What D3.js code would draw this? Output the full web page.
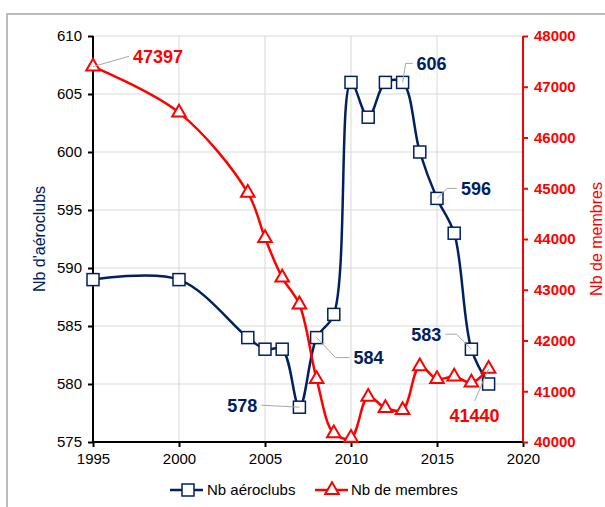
<!DOCTYPE html>
<html>
<head>
<meta charset="utf-8">
<script src="https://cdn.jsdelivr.net/npm/d3@7"></script>
<style>
  body { margin: 0; background: #fff; }
  text { font-family: "Liberation Sans", Arial, sans-serif; }
</style>
</head>
<body>
<div id="chart"></div>
<script>
// Data
const years = [1995, 2000, 2004, 2005, 2006, 2007, 2008, 2009, 2010, 2011, 2012, 2013, 2014, 2015, 2016, 2017, 2018];
const aeroclubs = [589, 589, 584, 583, 583, 578, 584, 586, 606, 603, 606, 606, 600, 596, 593, 583, 580];
const membres = [47397, 46490, 44910, 44020, 43240, 42710, 41240, 40170, 40080, 40890, 40670, 40630, 41490, 41240, 41290, 41170, 41440];
const xTicks = [1995, 2000, 2005, 2010, 2015, 2020];
const leftTicks = [575, 580, 585, 590, 595, 600, 605, 610];
const rightTicks = [40000, 41000, 42000, 43000, 44000, 45000, 46000, 47000, 48000];
const labeledClubs = [2007, 2008, 2013, 2015, 2017];
const labeledMembres = [1995, 2018];

const navy = "#002060";
const red = "#ff0000";
const width = 605, height = 507;
const margin = {top: 36, right: 82, bottom: 65, left: 93};
const w = width - margin.left - margin.right;
const h = height - margin.top - margin.bottom;

const svg = d3.select("#chart").append("svg")
  .attr("width", width)
  .attr("height", height);

// outer chart border
svg.append("rect")
  .attr("x", 7).attr("y", 14)
  .attr("width", 620).attr("height", 520)
  .attr("fill", "none")
  .attr("stroke", "#a6a6a6")
  .attr("stroke-width", 1.5);

const g = svg.append("g").attr("transform", `translate(${margin.left},${margin.top})`);

const x = d3.scaleLinear().domain([1995, 2020]).range([0, w]);
const yL = d3.scaleLinear().domain([575, 610]).range([h, 0]);
const yR = d3.scaleLinear().domain([40000, 48000]).range([h, 0]);

// gridlines
g.append("g").selectAll("line").data(leftTicks.slice(1))
  .enter().append("line")
  .attr("x1", 0).attr("x2", w)
  .attr("y1", d => yL(d)).attr("y2", d => yL(d))
  .attr("stroke", "#d9d9d9").attr("stroke-width", 1);
g.append("g").selectAll("line").data(xTicks.slice(1, -1))
  .enter().append("line")
  .attr("x1", d => x(d)).attr("x2", d => x(d))
  .attr("y1", 0).attr("y2", h)
  .attr("stroke", "#d9d9d9").attr("stroke-width", 1);

// axes
const xAxis = g.append("g").attr("transform", `translate(0,${h})`)
  .call(d3.axisBottom(x).tickValues(xTicks).tickFormat(d3.format("d")).tickSize(5).tickPadding(6));
const leftAxis = g.append("g")
  .call(d3.axisLeft(yL).tickValues(leftTicks).tickSize(5).tickPadding(6));
const rightAxis = g.append("g").attr("transform", `translate(${w},0)`)
  .call(d3.axisRight(yR).tickValues(rightTicks).tickFormat(d3.format("d")).tickSize(5).tickPadding(6));

[xAxis, leftAxis].forEach(a => {
  a.selectAll("path, line").attr("stroke", "#000").attr("stroke-width", 2);
  a.selectAll("text").attr("fill", "#000").style("font-size", "15px");
  a.select(".domain").attr("d", a === xAxis ? `M0,0H${w}` : `M0,${h}V0`);
});
rightAxis.selectAll("path, line").attr("stroke", red).attr("stroke-width", 2);
rightAxis.select(".domain").attr("d", `M0,${h}V0`);
rightAxis.selectAll("text").attr("fill", red).style("font-size", "15px").style("font-weight", "bold");

// axis titles
svg.append("text")
  .attr("transform", `translate(45,${margin.top + h / 2}) rotate(-90)`)
  .attr("text-anchor", "middle")
  .attr("fill", navy)
  .style("font-size", "16px")
  .text("Nb d'aéroclubs");
svg.append("text")
  .attr("transform", `translate(602,${margin.top + h / 2}) rotate(-90)`)
  .attr("text-anchor", "middle")
  .attr("fill", red)
  .style("font-size", "16px")
  .text("Nb de membres");

const clubs = years.map((yr, i) => ({year: yr, v: aeroclubs[i]}));
const mem = years.map((yr, i) => ({year: yr, v: membres[i]}));

const curve = d3.curveCatmullRom.alpha(0.5);
const lineL = d3.line().x(d => x(d.year)).y(d => yL(d.v)).curve(curve);
const lineR = d3.line().x(d => x(d.year)).y(d => yR(d.v)).curve(curve);

// series: aeroclubs
g.append("path").datum(clubs)
  .attr("d", lineL).attr("fill", "none")
  .attr("stroke", navy).attr("stroke-width", 2.5);
g.append("g").selectAll("rect").data(clubs)
  .enter().append("rect")
  .attr("x", d => x(d.year) - 6).attr("y", d => yL(d.v) - 6)
  .attr("width", 12).attr("height", 12)
  .attr("fill", "#fff").attr("stroke", navy).attr("stroke-width", 1.5);

// series: membres
const tri = d3.symbol().type(d3.symbolTriangle).size(80);
g.append("path").datum(mem)
  .attr("d", lineR).attr("fill", "none")
  .attr("stroke", red).attr("stroke-width", 2.5);
g.append("g").selectAll("path").data(mem)
  .enter().append("path")
  .attr("d", tri)
  .attr("transform", d => `translate(${x(d.year)},${yR(d.v)})`)
  .attr("fill", "#fff").attr("stroke", red).attr("stroke-width", 2);

// data labels with leader lines (offsets: label anchor, elbow)
const clubLayout = {
  2007: {lx: -42, ly: -2, anchor: "end", elbow: [-38, -2]},
  2008: {lx: 37, ly: 20, anchor: "start", elbow: [19, 20]},
  2013: {lx: 14, ly: -19, anchor: "start", elbow: [3, -19]},
  2015: {lx: 24, ly: -10, anchor: "start", elbow: [10, -10]},
  2017: {lx: -30, ly: -15, anchor: "end", elbow: [-15, -15]}
};
const memLayout = {
  1995: {lx: 40, ly: -10, anchor: "start", elbow: [35, -10]},
  2018: {lx: -14, ly: 47, anchor: "middle", elbow: [-14, 32]}
};

function addLabel(px, py, lay, txt, color) {
  const ex = px + lay.elbow[0], ey = py + lay.elbow[1];
  const endX = lay.anchor === "start" ? px + lay.lx - 4 : lay.anchor === "end" ? px + lay.lx + 4 : ex;
  g.append("path")
    .attr("d", `M${px},${py}L${ex},${ey}L${endX},${ey}`)
    .attr("fill", "none").attr("stroke", "#a6a6a6").attr("stroke-width", 1);
  g.append("text")
    .attr("x", px + lay.lx).attr("y", py + lay.ly)
    .attr("dy", "0.35em")
    .attr("text-anchor", lay.anchor)
    .attr("fill", color)
    .style("font-size", "18px").style("font-weight", "bold")
    .text(txt);
}
clubs.filter(d => labeledClubs.includes(d.year)).forEach(d =>
  addLabel(x(d.year), yL(d.v), clubLayout[d.year], d.v, navy));
mem.filter(d => labeledMembres.includes(d.year)).forEach(d =>
  addLabel(x(d.year), yR(d.v), memLayout[d.year], d.v, red));

// legend
const legend = svg.append("g").attr("transform", "translate(0,490)");
legend.append("line").attr("x1", 170).attr("x2", 203).attr("stroke", navy).attr("stroke-width", 2.5);
legend.append("rect").attr("x", 182).attr("y", -6).attr("width", 12).attr("height", 12)
  .attr("fill", "#fff").attr("stroke", navy).attr("stroke-width", 1.5);
legend.append("text").attr("x", 207).attr("dy", "0.35em").style("font-size", "15px").text("Nb aéroclubs");
legend.append("line").attr("x1", 315).attr("x2", 348).attr("stroke", red).attr("stroke-width", 2.5);
legend.append("path").attr("d", tri).attr("transform", "translate(332,0)")
  .attr("fill", "#fff").attr("stroke", red).attr("stroke-width", 2);
legend.append("text").attr("x", 351).attr("dy", "0.35em").style("font-size", "15px").text("Nb de membres");
</script>
</body>
</html>
